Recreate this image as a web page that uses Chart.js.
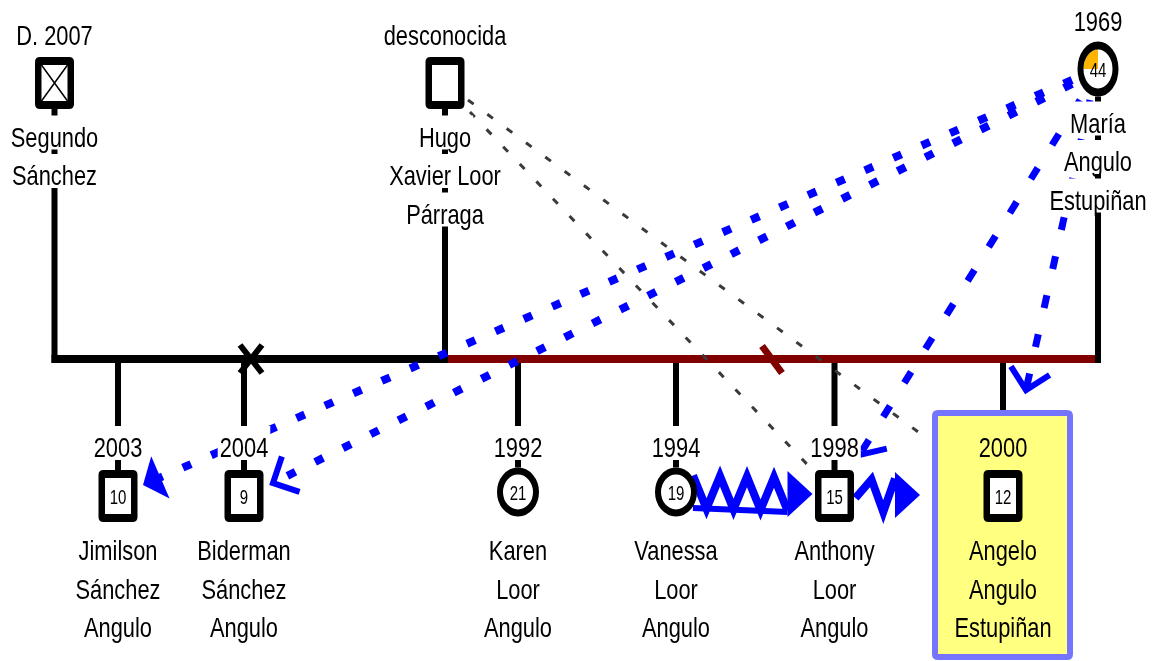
<!DOCTYPE html>
<html><head><meta charset="utf-8">
<script src="https://cdn.jsdelivr.net/npm/chart.js@4.4.1/dist/chart.umd.min.js"></script>
<style>html,body{margin:0;padding:0;background:#fff;overflow:hidden}canvas{display:block}</style>
</head><body>
<canvas id="c" width="1160" height="661"></canvas>
<script>
// ---------------- data ----------------
const persons = ["Segundo Sánchez","Hugo Xavier Loor Párraga","María Angulo Estupiñan","Jimilson Sánchez Angulo","Biderman Sánchez Angulo","Karen Loor Angulo","Vanessa Loor Angulo","Anthony Loor Angulo","Angelo Angulo Estupiñan"];
const nameLines = [["Segundo","Sánchez"],["Hugo","Xavier Loor","Párraga"],["María","Angulo","Estupiñan"],["Jimilson","Sánchez","Angulo"],["Biderman","Sánchez","Angulo"],["Karen","Loor","Angulo"],["Vanessa","Loor","Angulo"],["Anthony","Loor","Angulo"],["Angelo","Angulo","Estupiñan"]];
const yearLabels = ["D. 2007","desconocida","1969","2003","2004","1992","1994","1998","2000"];
const ages = ["","","44","10","9","21","19","15","12"];
const sex = ["M","M","F","M","M","F","F","M","M"];
const deceased = [true,false,false,false,false,false,false,false,false];
const generation = [0,0,0,1,1,1,1,1,1];
const focusPerson = 8;

// unions: partners drawn from / to, children, status
const unionFrom = [0,1];
const unionTo = [1,2];
const unionChildren = [[3,4],[5,6,7,8]];
const unionStatus = ["divorce","separation"];

// emotional relations
const relFrom = [2,2,2,2,1,1,6,7];
const relTo   = [3,4,7,8,8,7,7,8];
const relType = ["dotted-filled","dotted-open","dashed-open","dashed-open","distant","distant","violence","violence"];

// ---------------- layout (chart units) ----------------
const nodeX = [54.5,445,1098,118,244,518,676,834.5,1003];
const nodeY = [83,83,69,496,496,492,492,496,496];
const unionY = 359;
const sepMarkX = [251,772];
const relStartOff = [[-26,11],[-26,15],[-18,31],[-8,31],[23,17],[25,29],[17,0],[21,0]];
const relEndOff   = [[25,-11],[29,-13],[25,-41],[23,-106],[-78,-59],[-22,-26],[-22,-2],[-83,-1]];
const highlightBox = {x0:935,y0:413,x1:1070,y1:657};
const lineGap = 38.5;

// ---------------- helpers ----------------
const FONT = "'Liberation Sans', Arial, Helvetica, sans-serif";
const BLUE = "#0000ff", RED = "#800000";
function symHalfH(i){ return sex[i]==="M" ? 26 : (i===2 ? 27.5 : 24.5); }
function pt(i,off){ return {x:nodeX[i]+off[0], y:nodeY[i]+off[1]}; }
function seg(points,color,width,dash){
  return {data:points, showLine:true, borderColor:color, borderWidth:width, borderDash:dash||[],
    pointRadius:0, pointHoverRadius:0, fill:false, borderCapStyle:'butt', borderJoinStyle:'miter', clip:false, tension:0};
}
function zigzagPoints(a,b,step,amp,startUp){
  const pts=[]; let up=startUp; const n=Math.round((b.x-a.x)/step);
  for(let k=0;k<=n;k++){ const t=k/n; pts.push({x:a.x+(b.x-a.x)*t, y:a.y+(b.y-a.y)*t+(up?-amp:amp)}); up=!up; }
  return pts;
}

// ---------------- datasets ----------------
const datasets = [];
const relDraw = [];
relFrom.forEach((f,k)=>{
  const s = pt(f,relStartOff[k]), e = pt(relTo[k],relEndOff[k]);
  relDraw.push({s,e,type:relType[k]});
  const t = relType[k];
  if(t==="dotted-filled"||t==="dotted-open"){
    let end = e;
    if(t==="dotted-filled"){ const dx=s.x-e.x, dy=s.y-e.y, L=Math.hypot(dx,dy); end={x:e.x+dx/L*18,y:e.y+dy/L*18}; }
    datasets.push(seg([s,end],BLUE,8,[9,22]));
  } else if(t==="dashed-open"){
    datasets.push(seg([s,e],BLUE,7,[13,27]));
  } else if(t==="distant"){
    datasets.push(seg([s,e],"#3a3a3a",3,[7,17]));
  } else if(t==="violence"){
    const base = {x:e.x-25, y:e.y};
    if(k===6){
      const z = zigzagPoints(s,base,13.4,16.5,true);
      datasets.push(seg(z,BLUE,8));
      datasets.push(seg([{x:s.x,y:s.y+16},{x:base.x,y:base.y+18}],BLUE,6));
    } else {
      const z = [{x:s.x,y:s.y+2}].concat(zigzagPoints({x:s.x+16,y:s.y},base,13,16.5,true));
      datasets.push(seg(z,BLUE,8));
    }
  }
});
// parent stems
[0,1,2].forEach(i=>{
  datasets.push(seg([{x:nodeX[i],y:nodeY[i]+symHalfH(i)},{x:nodeX[i],y:unionY+4}],"#000",6));
});
// union lines, separation marks, children drops
unionFrom.forEach((f,u)=>{
  const color = u===0 ? "#000" : RED;
  const xa = u===0 ? nodeX[f]-3 : nodeX[f]+3;
  datasets.push(seg([{x:xa,y:unionY},{x:nodeX[unionTo[u]]+3,y:unionY}],color,8));
  const sx = sepMarkX[u];
  if(unionStatus[u]==="divorce"){
    datasets.push(seg([{x:sx-11,y:unionY-14},{x:sx+11,y:unionY+14}],"#000",6));
    datasets.push(seg([{x:sx+11,y:unionY-14},{x:sx-11,y:unionY+14}],"#000",6));
  } else {
    datasets.push(seg([{x:sx-10,y:unionY-13},{x:sx+10,y:unionY+14}],RED,7));
  }
  unionChildren[u].forEach(c=>{
    const endY = c===focusPerson ? highlightBox.y0-3 : nodeY[c]-symHalfH(c);
    datasets.push(seg([{x:nodeX[c],y:unionY+4},{x:nodeX[c],y:endY}],"#000",6));
  });
});

// ---------------- drawing plugin ----------------
function drawText(ctx,text,cx,cy,size,sx,bg){
  ctx.save();
  ctx.font = size+"px "+FONT;
  const w = ctx.measureText(text).width*sx;
  if(bg){ ctx.fillStyle=bg; ctx.fillRect(cx-w/2-2, cy-21, w+4, 34); }
  ctx.translate(cx, cy+size*0.358);
  ctx.scale(sx,1);
  ctx.fillStyle="#000"; ctx.textAlign="center"; ctx.textBaseline="alphabetic";
  ctx.fillText(text,0,0);
  ctx.restore();
}
function roundRect(ctx,x,y,w,h,r){
  ctx.beginPath(); ctx.moveTo(x+r,y); ctx.lineTo(x+w-r,y); ctx.quadraticCurveTo(x+w,y,x+w,y+r);
  ctx.lineTo(x+w,y+h-r); ctx.quadraticCurveTo(x+w,y+h,x+w-r,y+h); ctx.lineTo(x+r,y+h);
  ctx.quadraticCurveTo(x,y+h,x,y+h-r); ctx.lineTo(x,y+r); ctx.quadraticCurveTo(x,y,x+r,y); ctx.closePath();
}
const geno = {
  id:'geno',
  beforeDatasetsDraw(chart){
    const ctx=chart.ctx, X=v=>chart.scales.x.getPixelForValue(v), Y=v=>chart.scales.y.getPixelForValue(v);
    const b=highlightBox;
    ctx.save();
    roundRect(ctx,X(b.x0),Y(b.y0),X(b.x1)-X(b.x0),Y(b.y1)-Y(b.y0),3);
    ctx.fillStyle="#ffff80"; ctx.fill();
    ctx.lineWidth=6; ctx.strokeStyle="#7474ff"; ctx.stroke();
    ctx.restore();
  },
  afterDatasetsDraw(chart){
    const ctx=chart.ctx, X=v=>chart.scales.x.getPixelForValue(v), Y=v=>chart.scales.y.getPixelForValue(v);
    relDraw.forEach(r=>{
      const sx=X(r.s.x), sy=Y(r.s.y), ex=X(r.e.x), ey=Y(r.e.y);
      let dx=ex-sx, dy=ey-sy; const L=Math.hypot(dx,dy); dx/=L; dy/=L;
      ctx.save(); ctx.fillStyle=BLUE; ctx.strokeStyle=BLUE;
      if(r.type==="dotted-filled"){
        const bx=ex-dx*19, by=ey-dy*19, nx=-dy, ny=dx;
        ctx.beginPath(); ctx.moveTo(ex,ey); ctx.lineTo(bx+nx*23,by+ny*23); ctx.lineTo(bx-nx*23,by-ny*23); ctx.closePath(); ctx.fill();
      } else if(r.type==="dotted-open"||r.type==="dashed-open"){
        const ang=Math.atan2(-dy,-dx), a=Math.PI/4, len=28;
        ctx.lineWidth=6; ctx.lineJoin="miter"; ctx.lineCap="butt";
        ctx.beginPath();
        ctx.moveTo(ex+Math.cos(ang+a)*len, ey+Math.sin(ang+a)*len);
        ctx.lineTo(ex,ey);
        ctx.lineTo(ex+Math.cos(ang-a)*len, ey+Math.sin(ang-a)*len);
        ctx.stroke();
      } else if(r.type==="violence"){
        const bx=ex-25;
        ctx.beginPath(); ctx.moveTo(ex,ey); ctx.lineTo(bx,ey-23); ctx.lineTo(bx,ey+23); ctx.closePath(); ctx.fill();
      }
      ctx.restore();
    });
    persons.forEach((p,i)=>{
      const cx=X(nodeX[i]), cy=Y(nodeY[i]);
      ctx.save();
      if(sex[i]==="M"){
        const w=39,h=52,bx=6.5,by=8;
        roundRect(ctx,cx-w/2,cy-h/2,w,h,5); ctx.fillStyle="#000"; ctx.fill();
        ctx.fillStyle="#fff"; ctx.fillRect(cx-w/2+bx,cy-h/2+by,w-2*bx,h-2*by);
        if(deceased[i]){
          ctx.strokeStyle="#000"; ctx.lineWidth=1.5; ctx.beginPath();
          ctx.moveTo(cx-w/2+bx,cy-h/2+by); ctx.lineTo(cx+w/2-bx,cy+h/2-by);
          ctx.moveTo(cx+w/2-bx,cy-h/2+by); ctx.lineTo(cx-w/2+bx,cy+h/2-by); ctx.stroke();
        }
      } else {
        const ry=symHalfH(i), rx=i===2?20.5:21, sc=ry/rx, r=rx-3;
        ctx.translate(cx,cy); ctx.scale(1,sc);
        ctx.beginPath(); ctx.arc(0,0,r,0,Math.PI*2); ctx.fillStyle="#fff"; ctx.fill();
        if(i===2){
          ctx.beginPath(); ctx.moveTo(0,0); ctx.arc(0,0,r-3,Math.PI,1.5*Math.PI); ctx.closePath();
          ctx.fillStyle="#ffb400"; ctx.fill();
        }
        ctx.beginPath(); ctx.arc(0,0,r,0,Math.PI*2); ctx.lineWidth=6; ctx.strokeStyle="#000"; ctx.stroke();
      }
      ctx.restore();
      if(ages[i]) drawText(ctx,ages[i],cx,cy+1,20,0.75,null);
    });
    persons.forEach((p,i)=>{
      const cx=X(nodeX[i]);
      const bg = i===focusPerson ? null : "#fff";
      let yearY, nameY;
      if(generation[i]===0){ yearY = nodeY[i]-48; nameY = nodeY[i]+53.5; }
      else { yearY = 447; nameY = 550; }
      drawText(ctx,yearLabels[i],cx,Y(yearY),28,0.78,bg);
      nameLines[i].forEach((ln,k)=>drawText(ctx,ln,cx,Y(nameY+k*lineGap),28,0.78,bg));
    });
  }
};

new Chart(document.getElementById('c'),{
  type:'scatter',
  data:{datasets},
  options:{
    responsive:false, animation:false, devicePixelRatio:1, events:[],
    layout:{padding:0},
    plugins:{legend:{display:false},tooltip:{enabled:false},title:{display:false}},
    scales:{
      x:{type:'linear',min:0,max:1160,display:false},
      y:{type:'linear',min:0,max:661,reverse:true,display:false}
    }
  },
  plugins:[geno]
});
</script>
</body></html>
